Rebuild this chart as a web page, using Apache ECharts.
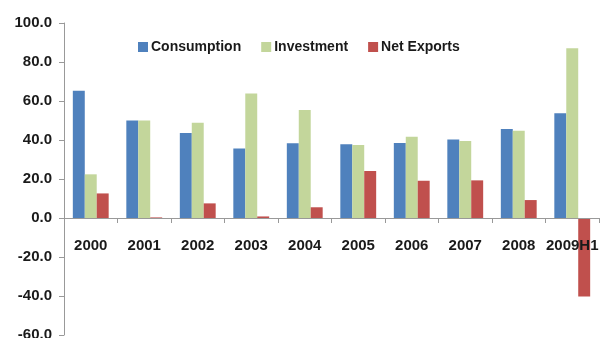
<!DOCTYPE html>
<html>
<head>
<meta charset="utf-8">
<script src="https://cdn.jsdelivr.net/npm/echarts@6/dist/echarts.min.js"></script>
<style>
	html, body { margin: 0; padding: 0; background: #fff; }
	#main { width: 600px; height: 338px; }
</style>
</head>
<body>
<div id="main"></div>
<script>
var years = ['2000', '2001', '2002', '2003', '2004', '2005', '2006', '2007', '2008', '2009H1'];
var consumption = [65.2, 50.0, 43.6, 35.6, 38.3, 37.8, 38.4, 40.3, 45.6, 53.7];
var investment = [22.4, 50.0, 48.8, 63.9, 55.4, 37.4, 41.7, 39.5, 44.8, 87.0];
var netExports = [12.6, 0.3, 7.5, 0.8, 5.5, 24.1, 19.1, 19.3, 9.2, -40.3];
var yTicks = {min: -60, max: 100, step: 20};

var chart = echarts.init(document.getElementById('main'));
var fontFam = '"Liberation Sans", Arial, sans-serif';
// grid is 312px tall over 160 units, so zero sits 117px above the bottom edge
var option = {
	animation: false,
	color: ['#4F81BD', '#C3D69B', '#C0504D'],
	legend: {
		left: 133,
		top: 35,
		itemWidth: 10,
		itemHeight: 10,
		itemGap: 20,
		icon: 'rect',
		textStyle: {
			fontFamily: fontFam,
			fontWeight: 'bold',
			fontSize: 14,
			color: '#1a1a1a',
			padding: [0, 0, 0, -2]
		},
		data: ['Consumption', 'Investment', 'Net Exports']
	},
	grid: {
		left: 64,
		right: 1,
		top: 23,
		bottom: 3,
		containLabel: false,
		outerBoundsMode: 'none'
	},
	xAxis: {
		type: 'category',
		data: years,
		offset: -117,
		z: 5,
		axisLine: {onZero: false, lineStyle: {color: '#999', width: 1}},
		axisTick: {show: true, length: 5, lineStyle: {color: '#999'}},
		axisLabel: {
			margin: 20,
			fontFamily: fontFam,
			fontWeight: 'bold',
			fontSize: 15,
			color: '#1a1a1a',
			interval: 0
		}
	},
	yAxis: {
		type: 'value',
		min: yTicks.min,
		max: yTicks.max,
		interval: yTicks.step,
		splitLine: {show: false},
		axisLine: {show: true, lineStyle: {color: '#999', width: 1}},
		axisTick: {show: true, length: 5, lineStyle: {color: '#999'}},
		axisLabel: {
			margin: 12,
			fontFamily: fontFam,
			fontWeight: 'bold',
			fontSize: 15,
			color: '#1a1a1a',
			formatter: function (v) { return v.toFixed(1); }
		}
	},
	series: [
		{name: 'Consumption', type: 'bar', data: consumption, barGap: '0%', barCategoryGap: '33%'},
		{name: 'Investment', type: 'bar', data: investment, barGap: '0%', barCategoryGap: '33%'},
		{name: 'Net Exports', type: 'bar', data: netExports, barGap: '0%', barCategoryGap: '33%'}
	]
};
chart.setOption(option);
</script>
</body>
</html>
